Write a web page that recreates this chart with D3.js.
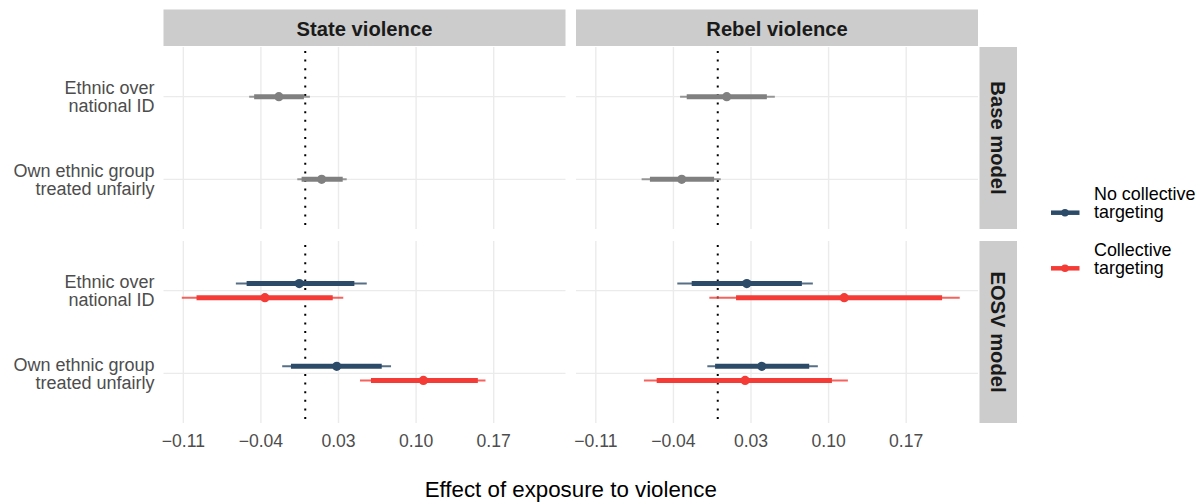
<!DOCTYPE html>
<html>
<head>
<meta charset="utf-8">
<script src="https://cdn.jsdelivr.net/npm/d3@7"></script>
<style>
  body { margin: 0; background: #fff; }
  svg { font-family: "Liberation Sans", Arial, sans-serif; }
</style>
</head>
<body>
<div id="chart"></div>
<script>
// facets and categories
const violenceTypes = ['State violence', 'Rebel violence'];
const models = ['Base model', 'EOSV model'];
const outcomes = ['Ethnic over\nnational ID', 'Own ethnic group\ntreated unfairly'];
const xTicks = [-0.11, -0.04, 0.03, 0.10, 0.17];

// estimates: [est, lo95, hi95, lo90, hi90]
const stateBase = [
  { outcome: 0, group: 'base', v: [-0.0238, -0.0506, 0.0042, -0.0461, -0.0012] },
  { outcome: 1, group: 'base', v: [0.0148, -0.0072, 0.0374, -0.0033, 0.0338] }
];
const rebelBase = [
  { outcome: 0, group: 'base', v: [0.0081, -0.0340, 0.0515, -0.0280, 0.0443] },
  { outcome: 1, group: 'base', v: [-0.0325, -0.0687, 0.0027, -0.0612, -0.0033] }
];
const stateEosv = [
  { outcome: 0, group: 'none', v: [-0.0054, -0.0626, 0.0555, -0.0529, 0.0443] },
  { outcome: 0, group: 'collective', v: [-0.0364, -0.1114, 0.0343, -0.0981, 0.0248] },
  { outcome: 1, group: 'none', v: [0.0284, -0.0208, 0.0774, -0.0129, 0.0690] },
  { outcome: 1, group: 'collective', v: [0.1066, 0.0494, 0.1626, 0.0593, 0.1557] }
];
const rebelEosv = [
  { outcome: 0, group: 'none', v: [0.0262, -0.0365, 0.0858, -0.0235, 0.0759] },
  { outcome: 0, group: 'collective', v: [0.1141, -0.0076, 0.2183, 0.0165, 0.2024] },
  { outcome: 1, group: 'none', v: [0.0397, -0.0094, 0.0903, -0.0024, 0.0825] },
  { outcome: 1, group: 'collective', v: [0.0247, -0.0666, 0.1174, -0.0551, 0.1030] }
];
const legendLabels = [['No collective', 'targeting'], ['Collective', 'targeting']];

const panels = [
  [stateBase, rebelBase],
  [stateEosv, rebelEosv]
];

const colors = { base: '#808080', none: '#2c4b69', collective: '#f43b35' };
const dodge = { base: 0, none: -0.085, collective: 0.085 };

const width = 1204, height = 504;
const panelX = [163.5, 576], panelW = 402;
const panelY = [47, 241], panelH = 182;

const svg = d3.select('#chart').append('svg')
  .attr('width', width).attr('height', height);

// x domain from data with ggplot-style 5% expansion
const all = panels.flat(2).flatMap(d => d.v);
const [mn, mx] = d3.extent(all);
const pad = (mx - mn) * 0.05;

panels.forEach((row, ri) => {
  row.forEach((data, ci) => {
    const x = d3.scaleLinear().domain([mn - pad, mx + pad]).range([panelX[ci], panelX[ci] + panelW]);
    const y = d3.scalePoint().domain(d3.range(outcomes.length)).range([panelY[ri], panelY[ri] + panelH]).padding(0.6);
    const step = y.step();
    const g = svg.append('g');

    // grid
    g.selectAll('.vg').data(xTicks).join('line')
      .attr('x1', d => x(d)).attr('x2', d => x(d))
      .attr('y1', panelY[ri]).attr('y2', panelY[ri] + panelH)
      .attr('stroke', '#ebebeb').attr('stroke-width', 1.4);
    g.selectAll('.hg').data(y.domain()).join('line')
      .attr('x1', panelX[ci]).attr('x2', panelX[ci] + panelW)
      .attr('y1', d => y(d)).attr('y2', d => y(d))
      .attr('stroke', '#ebebeb').attr('stroke-width', 1.4);

    // zero reference
    g.append('line')
      .attr('x1', x(0)).attr('x2', x(0))
      .attr('y1', panelY[ri] + 4).attr('y2', panelY[ri] + panelH)
      .attr('stroke', '#000').attr('stroke-width', 2)
      .attr('stroke-dasharray', '2,6.6');

    const yy = d => y(d.outcome) + dodge[d.group] * step;

    // outer interval
    g.selectAll('.thin').data(data).join('line')
      .attr('x1', d => x(d.v[1])).attr('x2', d => x(d.v[2]))
      .attr('y1', yy).attr('y2', yy)
      .attr('stroke', d => colors[d.group]).attr('stroke-opacity', 0.8)
      .attr('stroke-width', 2);
    // inner interval
    g.selectAll('.thick').data(data).join('line')
      .attr('x1', d => x(d.v[3])).attr('x2', d => x(d.v[4]))
      .attr('y1', yy).attr('y2', yy)
      .attr('stroke', d => colors[d.group])
      .attr('stroke-width', 5);
    g.selectAll('circle').data(data).join('circle')
      .attr('cx', d => x(d.v[0])).attr('cy', yy).attr('r', 4.6)
      .attr('fill', d => colors[d.group]);

    // y labels on the left column
    if (ci === 0) {
      y.domain().forEach(k => {
        const lines = outcomes[k].split('\n');
        const lh = 18.3;
        const t = svg.append('text')
          .attr('text-anchor', 'end')
          .attr('fill', '#4d4d4d').attr('font-size', 18);
        lines.forEach((l, i) => {
          t.append('tspan').attr('x', 154.5)
            .attr('y', y(k) + 6.3 - (lines.length - 1) * lh / 2 + i * lh)
            .text(l);
        });
      });
    }

    // x axis labels under the bottom row
    if (ri === panels.length - 1) {
      g.selectAll('.tl').data(xTicks).join('text')
        .attr('x', d => x(d)).attr('y', 446.7)
        .attr('text-anchor', 'middle')
        .attr('fill', '#4d4d4d').attr('font-size', 17.6)
        .text(d => d3.format('.2f')(d).replace('-', '\u2212'));
    }
  });
});

// top strips
violenceTypes.forEach((name, ci) => {
  svg.append('rect')
    .attr('x', panelX[ci]).attr('y', 9.5).attr('width', panelW).attr('height', 36.5)
    .attr('fill', '#cccccc');
  svg.append('text')
    .attr('x', panelX[ci] + panelW / 2).attr('y', 35.5)
    .attr('text-anchor', 'middle')
    .attr('font-size', 20.2).attr('font-weight', 'bold').attr('fill', '#1a1a1a')
    .text(name);
});

// right strips
models.forEach((name, ri) => {
  const sx = panelX[1] + panelW + 1.5;
  svg.append('rect')
    .attr('x', sx).attr('y', panelY[ri]).attr('width', 37.5).attr('height', panelH)
    .attr('fill', '#cccccc');
  svg.append('text')
    .attr('transform', `translate(${sx + 18.75},${panelY[ri] + panelH / 2}) rotate(90)`)
    .attr('dy', '0.35em').attr('text-anchor', 'middle')
    .attr('font-size', 20.2).attr('font-weight', 'bold').attr('fill', '#1a1a1a')
    .text(name);
});

// axis title
svg.append('text')
  .attr('x', (panelX[0] + panelX[1] + panelW) / 2).attr('y', 496.5)
  .attr('text-anchor', 'middle')
  .attr('font-size', 22.3).attr('fill', '#000')
  .text('Effect of exposure to violence');

// legend
const legendY = [212.7, 268.3];
['none', 'collective'].forEach((grp, i) => {
  const lg = svg.append('g');
  lg.append('line')
    .attr('x1', 1051).attr('x2', 1079.5)
    .attr('y1', legendY[i]).attr('y2', legendY[i])
    .attr('stroke', colors[grp]).attr('stroke-width', 4.5);
  lg.append('circle')
    .attr('cx', 1065).attr('cy', legendY[i]).attr('r', 3.8)
    .attr('fill', colors[grp]);
  legendLabels[i].forEach((l, j) => {
    lg.append('text')
      .attr('x', 1094).attr('y', legendY[i] - 12.7 + j * 18)
      .attr('font-size', 17.9).attr('fill', '#000')
      .text(l);
  });
});
</script>
</body>
</html>
